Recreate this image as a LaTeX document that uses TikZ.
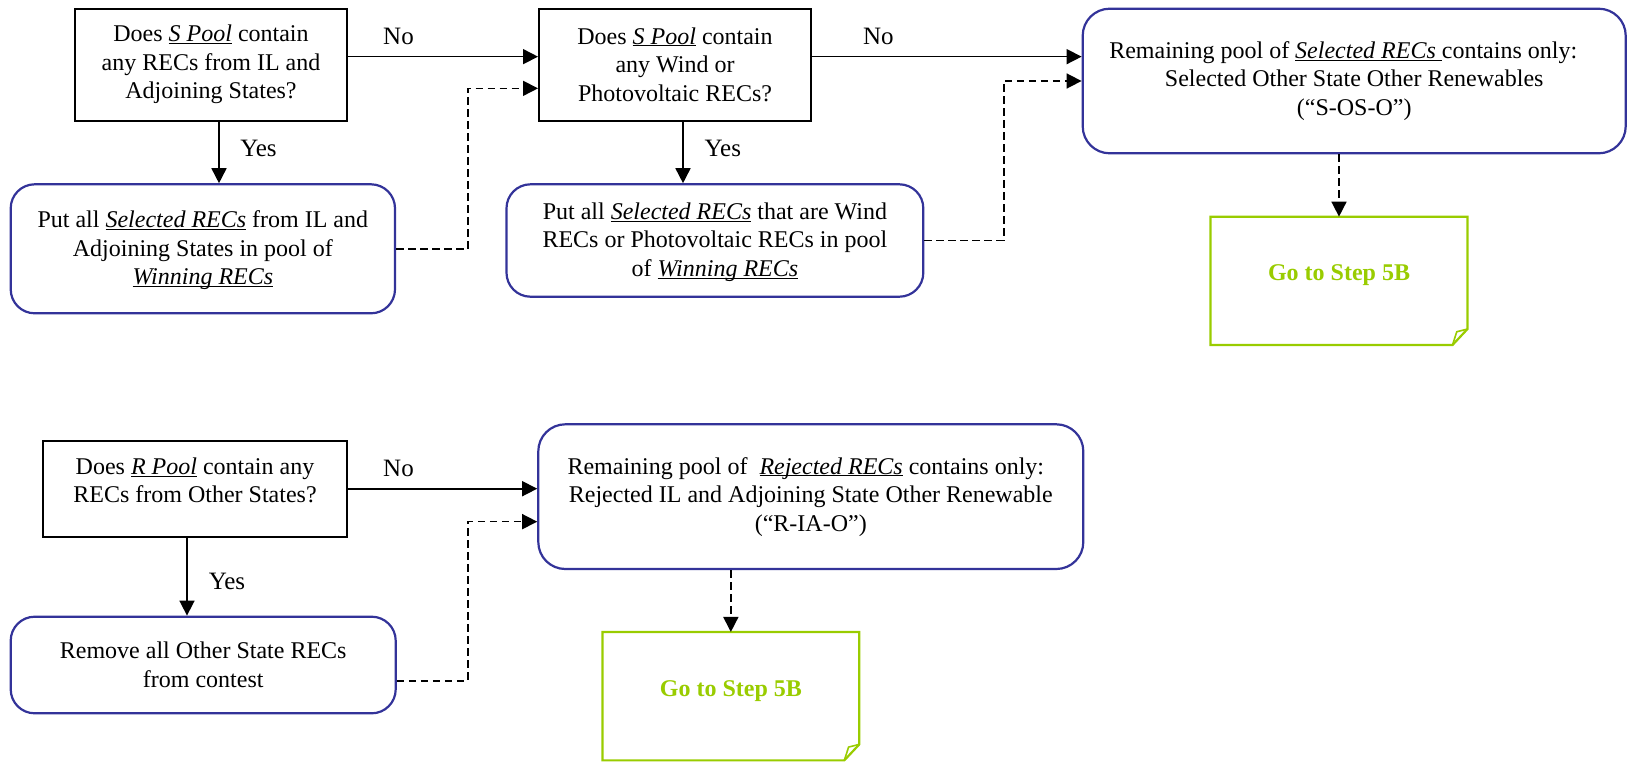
\documentclass[tikz,border=0pt]{standalone}
\usepackage{fontspec}
\setmainfont{Liberation Serif}
\usetikzlibrary{arrows.meta,calc}
\definecolor{boxblue}{RGB}{51,51,153}
\definecolor{gogreen}{RGB}{153,204,0}
\newcommand\myul[1]{\underline{\smash{#1}}}
\begin{document}
\begin{tikzpicture}[x=1pt,y=-1pt,
 txt/.style={font=\fontsize{24}{28.5}\selectfont, align=center, inner sep=0pt},
 qbox/.style={txt, draw=black, line width=2pt},
 rbox/.style={txt, draw=boxblue, line width=2.2pt, rounded corners=24pt},
 gobox/.style={draw=none, inner sep=0pt, minimum width=256.5pt, minimum height=128pt},
 gotext/.style={font=\fontsize{24}{28.5}\selectfont\bfseries, text=gogreen, inner sep=0pt},
 lbl/.style={font=\fontsize{25}{30}\selectfont, inner sep=0pt},
 arr/.style={line width=1.6pt, -{Triangle[length=15pt,width=15pt]}},
 darr/.style={arr, dash pattern=on 7.5pt off 4.5pt},
 fold/.style={draw=gogreen, line width=2.2pt, line join=miter}]

\useasboundingbox (0,0) rectangle (1627,761);

% top row
\node[qbox, minimum width=272.6pt, minimum height=111.7pt] (A) at (211,64.85)
  {Does \myul{\textit{S Pool}} contain\\any RECs from IL and\\Adjoining States?};
\node[qbox, minimum width=272pt, minimum height=111.7pt] (B) at (675,64.85)
  {Does \myul{\textit{S Pool}} contain\\any Wind or\\Photovoltaic RECs?};
\node[rbox, minimum width=384.3pt, minimum height=129pt] (C) at (202.85,248.8)
  {Put all \myul{\textit{Selected RECs}} from IL and\\Adjoining States in pool of\\\myul{\textit{Winning RECs}}};
\node[rbox, minimum width=416.8pt, minimum height=112.4pt] (F) at (714.9,240.5)
  {Put all \myul{\textit{Selected RECs}} that are Wind\\RECs or Photovoltaic RECs in pool\\of \myul{\textit{Winning RECs}}};
\node[rbox, rounded corners=27pt, minimum width=543pt, minimum height=144.6pt] (D) at (1354.2,81)
  {Remaining pool of \myul{\textit{Selected RECs}\ }contains only:\hspace*{22pt}\\Selected Other State Other Renewables\\(“S-OS-O”)};
\node[gobox] (E) at (1339,280.85) {};
\node[gotext] (Et) at ([yshift=5.8pt]E.center) {Go to Step 5B};
\draw[fold] (E.north west) -- (E.north east) -- ($(E.south east)+(0,-16)$) -- ($(E.south east)+(-15,0)$) -- (E.south west) -- cycle;
\draw[fold, line width=1.6pt] ($(E.south east)+(0,-16)$) -- ($(E.south east)+(-10.7,-13.3)$) -- ($(E.south east)+(-15,0)$);

% bottom row
\node[qbox, minimum width=304.6pt, minimum height=96pt] (G) at (195,488.7) {};
\node[txt] (Gt) at ([yshift=7.9pt]G.center)
  {Does \myul{\textit{R Pool}} contain any\\RECs from Other States?};
\node[rbox, minimum width=385pt, minimum height=96.6pt] (H) at (203.2,665)
  {Remove all Other State RECs\\from contest};
\node[rbox, rounded corners=27pt, minimum width=545pt, minimum height=144.7pt] (I) at (810.8,496.65)
  {Remaining pool of~ \myul{\textit{Rejected RECs}} contains only:\hspace*{10pt}\\Rejected IL and Adjoining State Other Renewable\\(“R-IA-O”)};
\node[gobox] (J) at (730.85,696.15) {};
\node[gotext] (Jt) at ([yshift=5.2pt]J.center) {Go to Step 5B};
\draw[fold] (J.north west) -- (J.north east) -- ($(J.south east)+(0,-16)$) -- ($(J.south east)+(-15,0)$) -- (J.south west) -- cycle;
\draw[fold, line width=1.6pt] ($(J.south east)+(0,-16)$) -- ($(J.south east)+(-10.7,-13.3)$) -- ($(J.south east)+(-15,0)$);

% connectors
\draw[arr] ([yshift=8.2pt]A.east) -- ([yshift=8.2pt]A.east -| B.west);
\draw[darr] (C.east) -- ++(71.7,0) |- ([yshift=-23.5pt]B.west);
\draw[arr] ([xshift=8pt]A.south) -- ([xshift=8pt]A.south |- C.north);
\draw[arr] ([yshift=8.2pt]B.east) -- ([yshift=8.2pt]B.east -| D.west);
\draw[arr] ([xshift=8pt]B.south) -- ([xshift=8pt]B.south |- F.north);
\draw[darr] (F.east) -- ++(79.4,0) |- (D.west);
\draw[darr] (D.south -| E.north) -- (E.north);
\draw[arr] (G.east) -- (G.east -| I.west);
\draw[arr] ([xshift=-8pt]G.south) -- ([xshift=-8pt]G.south |- H.north);
\draw[darr] ([yshift=-15.7pt]H.east) -- ++(71,0) |- ([yshift=-25pt]I.west);
\draw[darr] (I.south -| J.north) -- (J.north);

% labels
\node[lbl] (noA) at (398.5,36.7) {No};
\node[lbl] (yesA) at (258.5,148.3) {Yes};
\node[lbl] (noB) at (878.3,36.7) {No};
\node[lbl] (yesB) at (722.8,148.3) {Yes};
\node[lbl] (noG) at (398.5,468.3) {No};
\node[lbl] (yesG) at (227,581) {Yes};
\end{tikzpicture}
\end{document}
